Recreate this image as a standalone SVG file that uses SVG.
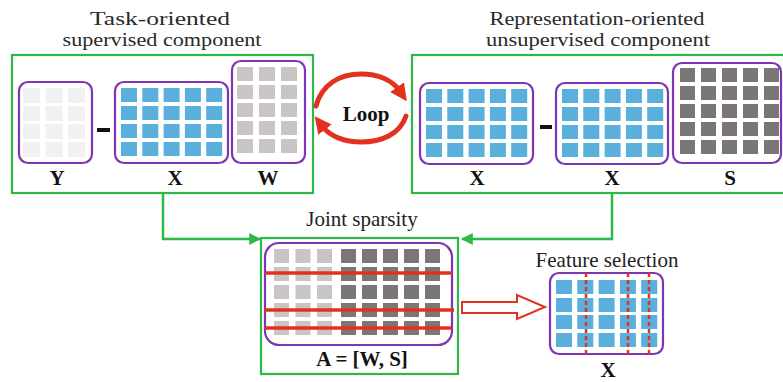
<svg xmlns="http://www.w3.org/2000/svg" xmlns:xlink="http://www.w3.org/1999/xlink" width="783" height="382" viewBox="0 0 783 382">
<style>
.t{font-family:"Liberation Serif","Times New Roman",serif;font-size:21px;fill:#222;text-anchor:middle}
.h{font-size:19px;fill:#2a2a2a}
.b{font-weight:bold;fill:#111}
.grn{fill:none;stroke:#2fb84a;stroke-width:2.2}
.pur{fill:#fff;stroke:#7d35b3;stroke-width:2.2}
.cy{fill:#f1f1f1}
.cb{fill:#5aafdc}
.cw{fill:#c9c5c5}
.cs{fill:#7b7777}
.minus{stroke:#111;stroke-width:4}
.conn{fill:none;stroke:#2fb84a;stroke-width:2.5}
.loop{fill:none;stroke:#e2321f;stroke-width:5;stroke-linecap:round}
.sel{stroke:#e2321f;stroke-width:3.5}
.dash{stroke:#e2321f;stroke-width:2.5;stroke-dasharray:4 3}
</style>
<defs>
<g id="rowY"><rect class="cy" x="0" y="0" width="17" height="15"/><rect class="cy" x="22.5" y="0" width="17" height="15"/><rect class="cy" x="45" y="0" width="17" height="15"/></g>
<g id="rowB"><rect class="cb" x="0" y="0" width="16" height="14"/><rect class="cb" x="21.3" y="0" width="16" height="14"/><rect class="cb" x="42.6" y="0" width="16" height="14"/><rect class="cb" x="63.9" y="0" width="16" height="14"/><rect class="cb" x="85.2" y="0" width="16" height="14"/></g>
<g id="rowW"><rect class="cw" x="0" y="0" width="16" height="14"/><rect class="cw" x="22" y="0" width="16" height="14"/><rect class="cw" x="44" y="0" width="16" height="14"/></g>
<g id="rowS"><rect class="cs" x="0" y="0" width="15" height="14"/><rect class="cs" x="21" y="0" width="15" height="14"/><rect class="cs" x="42" y="0" width="15" height="14"/><rect class="cs" x="63" y="0" width="15" height="14"/><rect class="cs" x="84" y="0" width="15" height="14"/></g>
<g id="rowA"><rect class="cw" x="0" y="0" width="15" height="14"/><rect class="cw" x="21.5" y="0" width="15" height="14"/><rect class="cw" x="43" y="0" width="15" height="14"/><use xlink:href="#rowS" href="#rowS" x="67" y="0"/></g>
<marker id="ag" viewBox="0 0 10 10" refX="9" refY="5" markerWidth="12" markerHeight="12" markerUnits="userSpaceOnUse" orient="auto"><path d="M0,0 L10,5 L0,10 z" fill="#2fb84a"/></marker>
<marker id="ar" viewBox="0 0 10 10" refX="2" refY="5" markerWidth="17" markerHeight="17" markerUnits="userSpaceOnUse" orient="auto"><path d="M0,0 L10,5 L0,10 z" fill="#e2321f"/></marker>
</defs>

<g id="supervised">
<text class="t h" x="160" y="25" textLength="140" lengthAdjust="spacingAndGlyphs">Task-oriented</text>
<text class="t h" x="162" y="46" textLength="199" lengthAdjust="spacingAndGlyphs">supervised component</text>
<rect class="grn" x="12" y="55" width="301" height="138"/>
<rect class="pur" x="19" y="82" width="73" height="81" rx="9"/>
<use href="#rowY" x="23" y="88"/><use href="#rowY" x="23" y="106"/><use href="#rowY" x="23" y="124"/><use href="#rowY" x="23" y="142"/>
<line class="minus" x1="97" y1="130" x2="110" y2="130"/>
<rect class="pur" x="115" y="82" width="113" height="81" rx="9"/>
<use href="#rowB" x="121" y="88"/><use href="#rowB" x="121" y="106"/><use href="#rowB" x="121" y="124"/><use href="#rowB" x="121" y="142"/>
<rect class="pur" x="232" y="61" width="73" height="102" rx="9"/>
<use href="#rowW" x="237" y="67"/><use href="#rowW" x="237" y="85"/><use href="#rowW" x="237" y="103"/><use href="#rowW" x="237" y="121"/><use href="#rowW" x="237" y="139"/>
<text class="t b" x="57" y="185">Y</text>
<text class="t b" x="175" y="185">X</text>
<text class="t b" x="268" y="185">W</text>
</g>

<g id="unsupervised">
<text class="t h" x="597" y="25" textLength="215" lengthAdjust="spacingAndGlyphs">Representation-oriented</text>
<text class="t h" x="598" y="46" textLength="224" lengthAdjust="spacingAndGlyphs">unsupervised component</text>
<rect class="grn" x="412" y="55" width="374" height="138"/>
<rect class="pur" x="420" y="83" width="113" height="81" rx="9"/>
<use href="#rowB" x="426" y="89"/><use href="#rowB" x="426" y="107"/><use href="#rowB" x="426" y="125"/><use href="#rowB" x="426" y="143"/>
<line class="minus" x1="540" y1="127" x2="552" y2="127"/>
<rect class="pur" x="556" y="83" width="112" height="81" rx="9"/>
<use href="#rowB" x="562" y="89"/><use href="#rowB" x="562" y="107"/><use href="#rowB" x="562" y="125"/><use href="#rowB" x="562" y="143"/>
<rect class="pur" x="673" y="63" width="108" height="100" rx="9"/>
<use href="#rowS" x="680" y="68"/><use href="#rowS" x="680" y="86"/><use href="#rowS" x="680" y="104"/><use href="#rowS" x="680" y="122"/><use href="#rowS" x="680" y="140"/>
<text class="t b" x="477" y="185">X</text>
<text class="t b" x="612" y="185">X</text>
<text class="t b" x="730" y="185">S</text>
</g>

<g id="loop">
<path class="loop" d="M316,106 C322,84 340,74 361,74 C378,74 392,80 399,90" marker-end="url(#ar)"/>
<path class="loop" d="M406,116 C400,134 382,142 361,142 C344,142 330,136 323,127" marker-end="url(#ar)"/>
<text class="t b" x="366" y="121">Loop</text>
</g>

<g id="joint">
<text class="t" x="362" y="226">Joint sparsity</text>
<rect class="grn" x="261" y="238" width="197" height="136"/>
<rect class="pur" x="265" y="243" width="187" height="102" rx="14"/>
<use href="#rowA" x="274" y="249"/><use href="#rowA" x="274" y="267"/><use href="#rowA" x="274" y="285"/><use href="#rowA" x="274" y="303"/><use href="#rowA" x="274" y="321"/>
<line class="sel" x1="265" y1="273" x2="452" y2="273"/>
<line class="sel" x1="264" y1="310" x2="454" y2="310"/>
<line class="sel" x1="265" y1="328" x2="452" y2="328"/>
<text class="t b" x="362" y="366">A = [W, S]</text>
</g>

<g id="feature-selection">
<text class="t" x="607" y="267">Feature selection</text>
<rect class="pur" x="550" y="273" width="113" height="81" rx="9"/>
<use href="#rowB" x="556" y="280"/><use href="#rowB" x="556" y="298"/><use href="#rowB" x="556" y="315"/><use href="#rowB" x="556" y="333"/>
<line class="dash" x1="586" y1="273" x2="586" y2="354"/>
<line class="dash" x1="628" y1="273" x2="628" y2="354"/>
<line class="dash" x1="649" y1="273" x2="649" y2="354"/>
<text class="t b" x="608" y="377">X</text>
</g>

<g id="connectors">
<path class="conn" d="M163,193 V239 H260" marker-end="url(#ag)"/>
<path class="conn" d="M612,193 V239 H462" marker-end="url(#ag)"/>
<polygon points="462,302 517,302 517,295 545,307 517,319 517,313 462,313" fill="#fff" stroke="#e2321f" stroke-width="2"/>
</g>
</svg>
